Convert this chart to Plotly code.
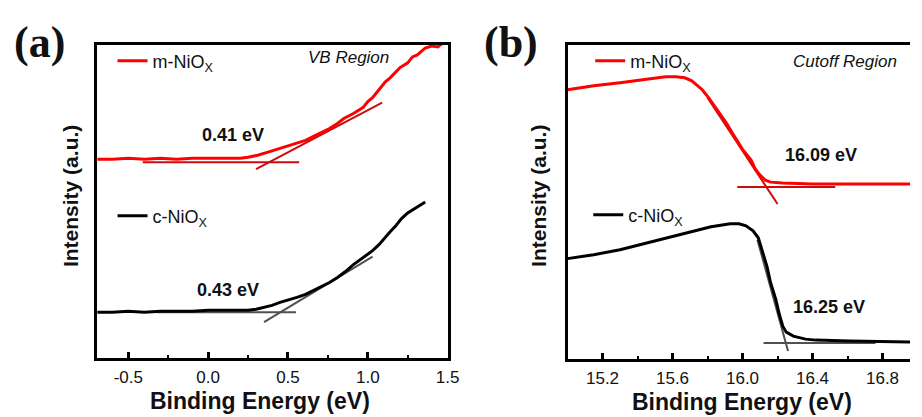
import plotly.graph_objects as go

# ---------------- data: panel (a) VB region ----------------
a_m_x = [-0.695, -0.60, -0.50, -0.40, -0.30, -0.20, -0.10, 0.00, 0.10, 0.20, 0.25, 0.31, 0.37, 0.43,
         0.50, 0.556, 0.61, 0.66, 0.71, 0.76, 0.81, 0.85, 0.91, 0.97, 1.00, 1.03, 1.07, 1.11, 1.14,
         1.17, 1.20, 1.25, 1.28, 1.31, 1.36, 1.40, 1.44, 1.46, 1.49]
a_m_y = [201, 201, 202, 201, 202, 201, 202, 202, 202, 202, 203, 205, 208, 211,
         214, 217, 220, 224, 228, 232, 237, 242, 247, 253, 259, 263, 271, 279, 283,
         288, 293, 298, 304, 306, 313, 315, 314, 317, 318]
a_c_x = [-0.695, -0.60, -0.50, -0.40, -0.30, -0.20, -0.10, 0.00, 0.10, 0.20, 0.25, 0.30, 0.35, 0.40,
         0.45, 0.50, 0.556, 0.61, 0.66, 0.71, 0.76, 0.81, 0.86, 0.91, 0.97, 1.00, 1.03, 1.07,
         1.11, 1.14, 1.17, 1.21, 1.25, 1.30, 1.33, 1.36]
a_c_y = [47, 47, 48, 47, 48, 48, 48, 49, 49, 49, 49, 50, 52, 54,
         57, 59, 62, 65, 69, 73, 77, 82, 88, 95, 102, 106, 109, 115,
         123, 128, 133, 141, 147, 152, 155, 158]
a_m_tan_x = [0.30, 1.09]
a_m_tan_y = [191, 258]
a_m_base_x = [-0.41, 0.57]
a_m_base_y = [198, 198]
a_c_tan_x = [0.35, 1.03]
a_c_tan_y = [37, 103]
a_c_base_x = [-0.32, 0.55]
a_c_base_y = [47, 47]

# ---------------- data: panel (b) cutoff region ----------------
b_m_x = [15.00, 15.15, 15.30, 15.43, 15.56, 15.62, 15.67, 15.71, 15.77, 15.81, 15.86, 15.91,
         15.95, 16.00, 16.05, 16.07, 16.10, 16.13, 16.16, 16.23, 16.40, 16.60, 16.80, 16.957]
b_m_y = [271, 275, 278, 281, 284, 284, 283, 280, 271, 262, 249, 237,
         225, 211, 200, 192, 185, 180, 178, 177, 176, 176, 176, 176]
b_c_x = [15.00, 15.15, 15.30, 15.44, 15.58, 15.71, 15.82, 15.93, 15.98, 16.02, 16.06, 16.09,
         16.11, 16.14, 16.16, 16.19, 16.21, 16.23, 16.25, 16.29, 16.36, 16.42, 16.61, 16.957]
b_c_y = [101, 105, 110, 116, 122, 128, 133, 136, 136, 134, 129, 122,
         110, 93, 77, 60, 45, 33, 27, 23, 20, 19, 18, 17]
b_m_tan_x = [15.80, 16.20]
b_m_tan_y = [263, 156]
b_m_base_x = [15.97, 16.53]
b_m_base_y = [173, 173]
b_c_tan_x = [16.085, 16.26]
b_c_tan_y = [120, 8]
b_c_base_x = [16.12, 16.76]
b_c_base_y = [16, 16]

a_ticks = [-0.5, 0.0, 0.5, 1.0, 1.5]
a_ticklabels = ["-0.5", "0.0", "0.5", "1.0", "1.5"]
b_ticks = [15.2, 15.6, 16.0, 16.4, 16.8]
b_ticklabels = ["15.2", "15.6", "16.0", "16.4", "16.8"]

RED = "#ff0000"
DRED = "#cc0c0c"
BLACK = "#000000"
GRAY = "#505050"
W, H = 922, 417

fig = go.Figure()

def line(x, y, color, width, xa, ya, name=None, legend=None):
    fig.add_trace(go.Scatter(
        x=x, y=y, mode="lines", line=dict(color=color, width=width),
        xaxis=xa, yaxis=ya, name=name or "",
        showlegend=name is not None, legend=legend, hoverinfo="skip"))

# panel a
line(a_m_base_x, a_m_base_y, DRED, 2, "x", "y")
line(a_m_tan_x, a_m_tan_y, DRED, 2, "x", "y")
line(a_m_x, a_m_y, RED, 3, "x", "y", "m-NiO<sub>X</sub>", "legend")
line(a_c_base_x, a_c_base_y, GRAY, 2, "x", "y")
line(a_c_tan_x, a_c_tan_y, GRAY, 2, "x", "y")
line(a_c_x, a_c_y, BLACK, 3, "x", "y", "c-NiO<sub>X</sub>", "legend2")
# panel b
line(b_m_base_x, b_m_base_y, DRED, 2, "x2", "y2")
line(b_m_tan_x, b_m_tan_y, DRED, 2, "x2", "y2")
line(b_m_x, b_m_y, RED, 3, "x2", "y2", "m-NiO<sub>X</sub>", "legend3")
line(b_c_base_x, b_c_base_y, GRAY, 2, "x2", "y2")
line(b_c_tan_x, b_c_tan_y, GRAY, 2, "x2", "y2")
line(b_c_x, b_c_y, BLACK, 3, "x2", "y2", "c-NiO<sub>X</sub>", "legend4")

tickfont = dict(family="Liberation Sans, Arial", size=17, color="#111")
xcommon = dict(showline=True, linewidth=3, linecolor="black", ticks="inside",
               ticklen=6, tickwidth=2.5, tickcolor="black", showgrid=False,
               zeroline=False, tickfont=tickfont, ticklabelstandoff=2)
ycommon = dict(showline=True, linewidth=3, linecolor="black", ticks="",
               showticklabels=False, showgrid=False, zeroline=False)

def px(v):
    return v / W

def py(v):
    return 1 - v / H

fig.update_layout(
    width=W, height=H, margin=dict(l=0, r=0, t=0, b=0),
    paper_bgcolor="white", plot_bgcolor="white", showlegend=True,
    xaxis=dict(domain=[px(98.5), px(453.5)], range=[-0.695, 1.5], tickvals=a_ticks,
               ticktext=a_ticklabels, mirror=True, anchor="y",
               minor=dict(ticks="inside", ticklen=3, tickwidth=2, tickcolor="black", dtick=0.25),
               **xcommon),
    yaxis=dict(domain=[py(358), py(45)], range=[1, 316], mirror=True, anchor="x", **ycommon),
    xaxis2=dict(domain=[px(575), 1.0], range=[15.0, 16.957], tickvals=b_ticks,
                ticktext=b_ticklabels, mirror=True, anchor="y2",
                minor=dict(ticks="inside", ticklen=3, tickwidth=2, tickcolor="black", dtick=0.2, tick0=15.0),
                **xcommon),
    yaxis2=dict(domain=[py(359), py(45)], range=[0, 316], mirror=False, anchor="x2", **ycommon),
)

legfont = dict(family="Liberation Sans, Arial", size=18, color="#111")
def leg(x, y):
    return dict(x=px(x), y=py(y), xanchor="left", yanchor="middle", font=legfont,
                bgcolor="rgba(0,0,0,0)", borderwidth=0, tracegroupgap=0)

fig.update_layout(legend=leg(114, 61), legend2=leg(114, 216),
                  legend3=leg(598, 61), legend4=leg(596, 215))

ann = []
def text(x, y, s, size, bold=False, italic=False, family="Liberation Sans, Arial", angle=0):
    if bold:
        s = "<b>" + s + "</b>"
    if italic:
        s = "<i>" + s + "</i>"
    ann.append(dict(x=px(x), y=py(y), xref="paper", yref="paper", text=s, showarrow=False,
                    xanchor="center", yanchor="middle", textangle=angle,
                    font=dict(family=family, size=size, color="#111")))

text(40, 42, "(a)", 44, bold=True, family="Liberation Serif, Times New Roman")
text(518, 42, "(b)", 44, bold=True, family="Liberation Serif, Times New Roman")
text(353, 57, "VB Region", 17, italic=True)
text(856, 62, "Cutoff Region", 17, italic=True)
text(236, 135, "0.41 eV", 18, bold=True)
text(231, 290, "0.43 eV", 18, bold=True)
text(832, 155, "16.09 eV", 18, bold=True)
text(840, 307, "16.25 eV", 18, bold=True)
text(263, 401, "Binding Energy (eV)", 23, bold=True)
text(752, 402, "Binding Energy (eV)", 23, bold=True)
text(72, 196, "Intensity (a.u.)", 21, bold=True, angle=-90)
text(546, 196, "Intensity (a.u.)", 21, bold=True, angle=-90)
fig.update_layout(annotations=ann)

fig.write_html("out.html")
